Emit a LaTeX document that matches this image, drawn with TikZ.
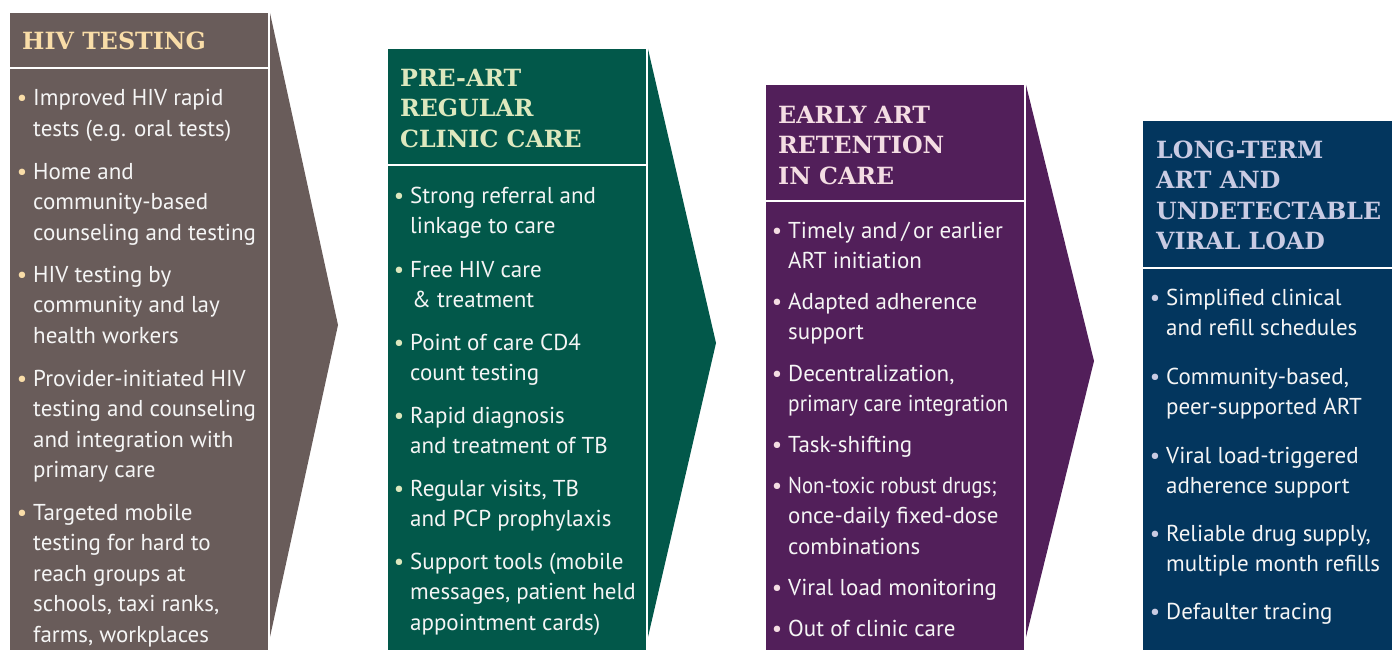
\documentclass[tikz,border=0pt]{standalone}
\usepackage{fontspec}
\setmainfont{PT Sans}
\newfontfamily\headfont{DejaVu Serif}
\definecolor{testbrown}{HTML}{695C5A}
\definecolor{testhead}{HTML}{F9DDA8}
\definecolor{preartgreen}{HTML}{02584A}
\definecolor{prearthead}{HTML}{DDE8BE}
\definecolor{earlypurple}{HTML}{521F5A}
\definecolor{earlyhead}{HTML}{F4DDE3}
\definecolor{longnavy}{HTML}{03365E}
\definecolor{longhead}{HTML}{C9CBE3}
\tikzset{
	colhead/.style={anchor=base west, inner sep=0pt, align=left,
		font=\headfont\bfseries\fontsize{23.7}{30.5}\selectfont},
	colitem/.style={anchor=base west, inner sep=0pt, align=left, text=white!96!black,
		font=\fontsize{23}{30.5}\selectfont},
	divider/.style={white, line width=2.5pt}
}
\newcommand{\bul}[1]{\llap{\textcolor{#1}{\textbullet}\hspace{6pt}}}
% nodes are placed at the baseline of their last line
\begin{document}
\begin{tikzpicture}[x=1pt,y=-1pt]
\useasboundingbox (0,0) rectangle (1392,650);
\clip (0,0) rectangle (1392,650);

\begin{scope}
	\fill[testbrown] (10,13) rectangle (268,650);
	\fill[testbrown] (270,13) -- (338,325) -- (270,637) -- cycle;
	\draw[divider] (10,68) -- (268,68);

	\node[colhead, text=testhead] (h1) at (22,50) {HIV TESTING};
	\node[colitem] (t1) at (33,136.5) {\bul{testhead}Improved HIV rapid\\tests (e.g. oral tests)};
	\node[colitem] (t2) at (33,240) {\bul{testhead}Home and\\community-based\\counseling and testing};
	\node[colitem] (t3) at (33,343) {\bul{testhead}HIV testing by\\community and lay\\health workers};
	\node[colitem] (t4) at (33,477.5) {\bul{testhead}Provider-initiated HIV\\testing and counseling\\and integration with\\primary care};
	\node[colitem] (t5) at (33,642) {\bul{testhead}Targeted mobile\\testing for hard to\\reach groups at\\schools, taxi ranks,\\farms, workplaces};
\end{scope}

\begin{scope}[xshift=378pt]
	\fill[preartgreen] (10,49) rectangle (268,650);
	\fill[preartgreen] (270,49) -- (338,343) -- (270,637) -- cycle;
	\draw[divider] (10,165) -- (268,165);

	\node[colhead, text=prearthead] (h2) at (22,147) {PRE-ART\\REGULAR\\CLINIC CARE};
	\node[colitem] (p1) at (32,233.5) {\bul{prearthead}Strong referral and\\linkage to care};
	\node[colitem] (p2) at (32,307.5) {\bul{prearthead}Free HIV care\\\hspace{2pt}\& treatment};
	\node[colitem] (p3) at (32,380.5) {\bul{prearthead}Point of care CD4\\count testing};
	\node[colitem] (p4) at (32,453.5) {\bul{prearthead}Rapid diagnosis\\and treatment of TB};
	\node[colitem] (p5) at (32,526.5) {\bul{prearthead}Regular visits, TB\\and PCP prophylaxis};
	\node[colitem] (p6) at (32,630) {\bul{prearthead}Support tools (mobile\\messages, patient held\\appointment cards)};
\end{scope}

\begin{scope}[xshift=756pt]
	\fill[earlypurple] (10,85) rectangle (268,650);
	\fill[earlypurple] (270,85) -- (338,361) -- (270,637) -- cycle;
	\draw[divider] (10,201) -- (268,201);

	\node[colhead, text=earlyhead] (h3) at (22,184) {EARLY ART\\RETENTION\\IN CARE};
	\node[colitem] (e1) at (32,268.5) {\bul{earlyhead}Timely and\,/\,or earlier\\ART initiation};
	\node[colitem] (e2) at (32,339.5) {\bul{earlyhead}Adapted adherence\\support};
	\node[colitem] (e3) at (32,411.5) {\bul{earlyhead}Decentralization,\\\scalebox{0.93}[1]{primary care integration}};
	\node[colitem] (e4) at (32,452) {\bul{earlyhead}Task-shifting};
	\node[colitem] (e5) at (32,554) {\bul{earlyhead}\scalebox{0.9}[1]{Non-toxic robust drugs;}\\once-daily fixed-dose\\combinations};
	\node[colitem] (e6) at (32,595) {\bul{earlyhead}Viral load monitoring};
	\node[colitem] (e7) at (32,636) {\bul{earlyhead}Out of clinic care};
\end{scope}

\begin{scope}[xshift=1133pt]
	\fill[longnavy] (10,121) rectangle (270,650);
	\draw[divider] (10,268) -- (270,268);

	\node[colhead, text=longhead] (h4) at (23,249.5) {LONG-TERM\\ART AND\\UNDETECTABLE\\VIRAL LOAD};
	\node[colitem] (l1) at (33,335.5) {\bul{longhead}Simplified clinical\\and refill schedules};
	\node[colitem] (l2) at (33,414.5) {\bul{longhead}Community-based,\\peer-supported ART};
	\node[colitem] (l3) at (33,493.5) {\bul{longhead}Viral load-triggered\\adherence support};
	\node[colitem] (l4) at (33,571.5) {\bul{longhead}Reliable drug supply,\\multiple month refills};
	\node[colitem] (l5) at (33,619) {\bul{longhead}Defaulter tracing};
\end{scope}
\end{tikzpicture}
\end{document}
